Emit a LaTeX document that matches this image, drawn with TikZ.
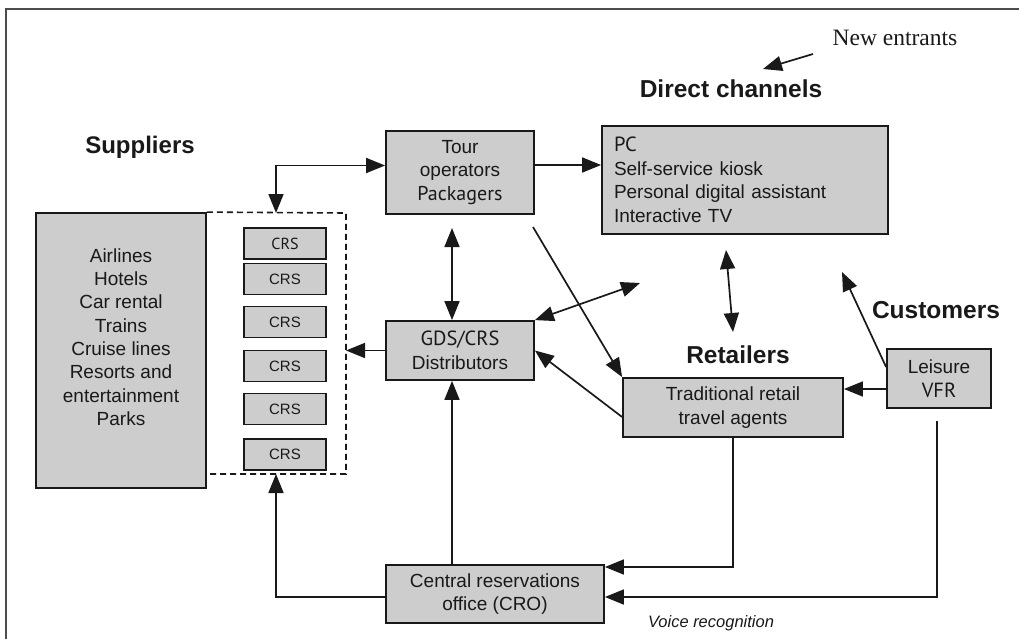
\documentclass[tikz,border=0pt]{standalone}
\usepackage{fontspec}
\setmainfont{Liberation Sans}
\newfontfamily\serifnew{Liberation Serif}
\newfontfamily\patchfont{PT Sans}
\usetikzlibrary{arrows.meta,calc}
\definecolor{boxgray}{RGB}{205,205,205}
\definecolor{inkc}{RGB}{25,25,25}
\begin{document}
\begin{tikzpicture}[x=1pt,y=-1pt,
  box/.style={draw=inkc,line width=1.8pt,fill=boxgray,inner sep=0pt,text=inkc,
    font=\fontsize{19}{23.5}\selectfont,align=center},
  crsbox/.style={box,minimum width=82pt,minimum height=31pt,font=\fontsize{15}{18}\selectfont},
  conn/.style={draw=inkc,line width=1.7pt},
  tipd/.style={-{Triangle[length=19pt,width=15pt]}},
  tipdd/.style={{Triangle[length=19pt,width=15pt]}-{Triangle[length=19pt,width=15pt]}},
  head/.style={font=\fontsize{24}{28}\selectfont\bfseries,text=inkc,inner sep=0pt},
]
\useasboundingbox (0,0) rectangle (1019,639);
\draw[draw=black!70,line width=1.6pt] (6,9) rectangle (1030,650);

% headings
\node[head] (hsup) at (140,147) {Suppliers};
\node[head,font=\fontsize{24.5}{28}\selectfont\bfseries] (hdir) at (731,89) {Direct channels};
\node[head,font=\fontsize{24.5}{28}\selectfont\bfseries] (hret) at (738,355) {Retailers};
\node[head,font=\fontsize{24.5}{28}\selectfont\bfseries] (hcus) at (936,310) {Customers};
\node[text=inkc,inner sep=0pt,font=\serifnew\fontsize{23.5}{28}\selectfont] (hnew) at (895,38) {New entrants};
\node[text=inkc,inner sep=0pt,font=\fontsize{16.5}{20}\selectfont\itshape] (hvoice) at (711,623) {Voice recognition};

% boxes
\node[box,minimum width=170pt,minimum height=275pt] (sup) at (121,350.5) {};
\node[text=inkc,inner sep=0pt,align=center,font=\fontsize{19}{23.3}\selectfont] (suptxt) at (121,337)
  {Airlines\\Hotels\\Car rental\\Trains\\Cruise lines\\Resorts and\\entertainment\\Parks};
\node[box,minimum width=148pt,minimum height=83pt] (tour) at (460,172.5)
  {Tour\\operators\\{\patchfont\fontsize{20}{23.5}\selectfont Packagers}};
\node[box,minimum width=148pt,minimum height=59pt] (gds) at (460,350.5)
  {{\patchfont\fontsize{20.5}{23.5}\selectfont GDS/CRS}\\Distributors};
\node[box,minimum width=218pt,minimum height=58pt] (cro) at (495,594)
  {Central reservations\\office (CRO)};
\node[box,minimum height=108pt,text width=262pt,inner xsep=12pt,align=left] (dir) at (745,180)
  {{\patchfont\fontsize{20.5}{24}\selectfont PC}\\Self-service kiosk\\Personal digital assistant\\Interactive TV};
\node[box,minimum width=220pt,minimum height=59pt] (trad) at (733,407.5)
  {Traditional retail\\travel agents};
\node[box,minimum width=104pt,minimum height=59pt] (leis) at (939,378.5)
  {Leisure\\{\patchfont\fontsize{20.5}{23.5}\selectfont VFR}};

% CRS boxes
\node[crsbox] (crs1) at (285,243.5) {\patchfont\fontsize{16}{18}\selectfont CRS};
\node[crsbox] (crs2) at (285,279) {CRS};
\node[crsbox] (crs3) at (285,322) {CRS};
\node[crsbox] (crs4) at (285,366) {CRS};
\node[crsbox] (crs5) at (285,409) {CRS};
\node[crsbox] (crs6) at (285,454.5) {CRS};

% dashed box around CRS
\coordinate (dtr) at (346,213);
\coordinate (dbr) at (346,474);
\draw[draw=inkc,line width=1.6pt,dash pattern=on 6pt off 4pt] (sup.north east) -- (dtr) -- (dbr) -- (dbr -| sup.east);
\coordinate (dtop) at (276,213);
\coordinate (dbot) at (276,474);
\coordinate (dright) at (346,351);

% connectors
\coordinate (tw) at ($(tour.west)+(0,-7)$);
\coordinate (te) at ($(tour.east)+(0,-7.5)$);
\draw[conn,tipdd] (dtop) -- (dtop |- tw) -- (tw);
\draw[conn,tipd] (te) -- (te -| dir.west);
\coordinate (t1) at (452,228);
\draw[conn,tipdd] (t1) -- (t1 |- gds.north);
\draw[conn,tipd] (gds.west) -- (gds.west -| dright);
\draw[conn,tipd] (cro.north -| t1) -- (gds.south -| t1);
\coordinate (cw) at ($(cro.west)+(0,3)$);
\draw[conn,tipd] (cw) -- (cw -| dbot) -- (dbot);
\coordinate (ce1) at ($(cro.east)+(0,-27)$);
\draw[conn,tipd] (trad.south) -- (trad.south |- ce1) -- (ce1);
\coordinate (ce2) at ($(cro.east)+(0,3)$);
\coordinate (l1) at (937,421);
\draw[conn,tipd] (l1) -- (l1 |- ce2) -- (ce2);
\coordinate (lw) at ($(leis.west)+(0,10.5)$);
\draw[conn,tipd] (lw) -- (lw -| trad.east);
\coordinate (lwt) at ($(leis.west)+(0,-11.5)$);
\coordinate (dirtip) at (842,272);
\draw[conn,tipd] (lwt) -- (dirtip);
\coordinate (dr1) at (726,250);
\coordinate (dr2) at (733,332);
\draw[conn,tipdd] (dr1) -- (dr2);
\coordinate (ts) at (533,227);
\draw[conn,tipd] (ts) -- (trad.north west);
\coordinate (gfree) at (640,283);
\draw[conn,tipdd] (gds.north east) -- (gfree);
\coordinate (trw) at ($(trad.west)+(0,9.5)$);
\draw[conn,tipd] (trw) -- (gds.east);
\coordinate (n1) at (813,54);
\coordinate (n2) at (763,69);
\draw[conn,tipd] (n1) -- (n2);
\end{tikzpicture}
\end{document}
